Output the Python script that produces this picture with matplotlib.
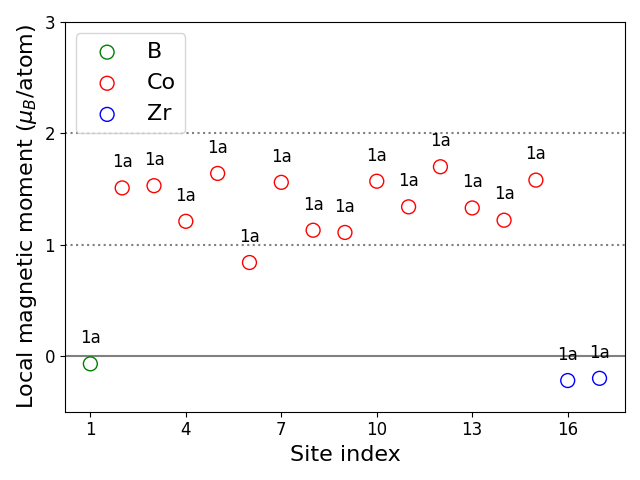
import numpy as np
import matplotlib
matplotlib.use("Agg")
import matplotlib.pyplot as plt

# site index, moment per element
b_sites = [1]
b_moment = [-0.07]
co_sites = [2, 3, 4, 5, 6, 7, 8, 9, 10, 11, 12, 13, 14, 15]
co_moment = [1.51, 1.53, 1.21, 1.64, 0.84, 1.56, 1.13, 1.11, 1.57, 1.34, 1.70, 1.33, 1.22, 1.58]
zr_sites = [16, 17]
zr_moment = [-0.22, -0.20]
wyckoff = "1a"

fig, ax = plt.subplots(figsize=(6.4, 4.8), dpi=100)

ax.axhline(0, color="grey", lw=1.5, zorder=1)
ax.axhline(1, color="grey", ls=":", lw=1.5, zorder=1)
ax.axhline(2, color="grey", ls=":", lw=1.5, zorder=1)

for sites, mom, col, name in [(b_sites, b_moment, "green", "B"),
                              (co_sites, co_moment, "red", "Co"),
                              (zr_sites, zr_moment, "blue", "Zr")]:
    ax.scatter(sites, mom, s=100, facecolors="none", edgecolors=col, label=name, zorder=3)
    for x, y in zip(sites, mom):
        ax.text(x, y + 0.15, wyckoff, ha="center", va="bottom", fontsize=12, zorder=4)

ax.set_xlim(0.2, 17.8)
ax.set_ylim(-0.5, 3)
ax.set_xticks(np.arange(1, 18, 3))
ax.set_yticks([0, 1, 2, 3])
ax.tick_params(labelsize=12)
ax.set_xlabel("Site index", fontsize=16)
ax.set_ylabel(r"Local magnetic moment ($\mu_B$/atom)", fontsize=16)
ax.legend(loc="upper left", fontsize=16)

fig.tight_layout()
fig.savefig("out.png")
